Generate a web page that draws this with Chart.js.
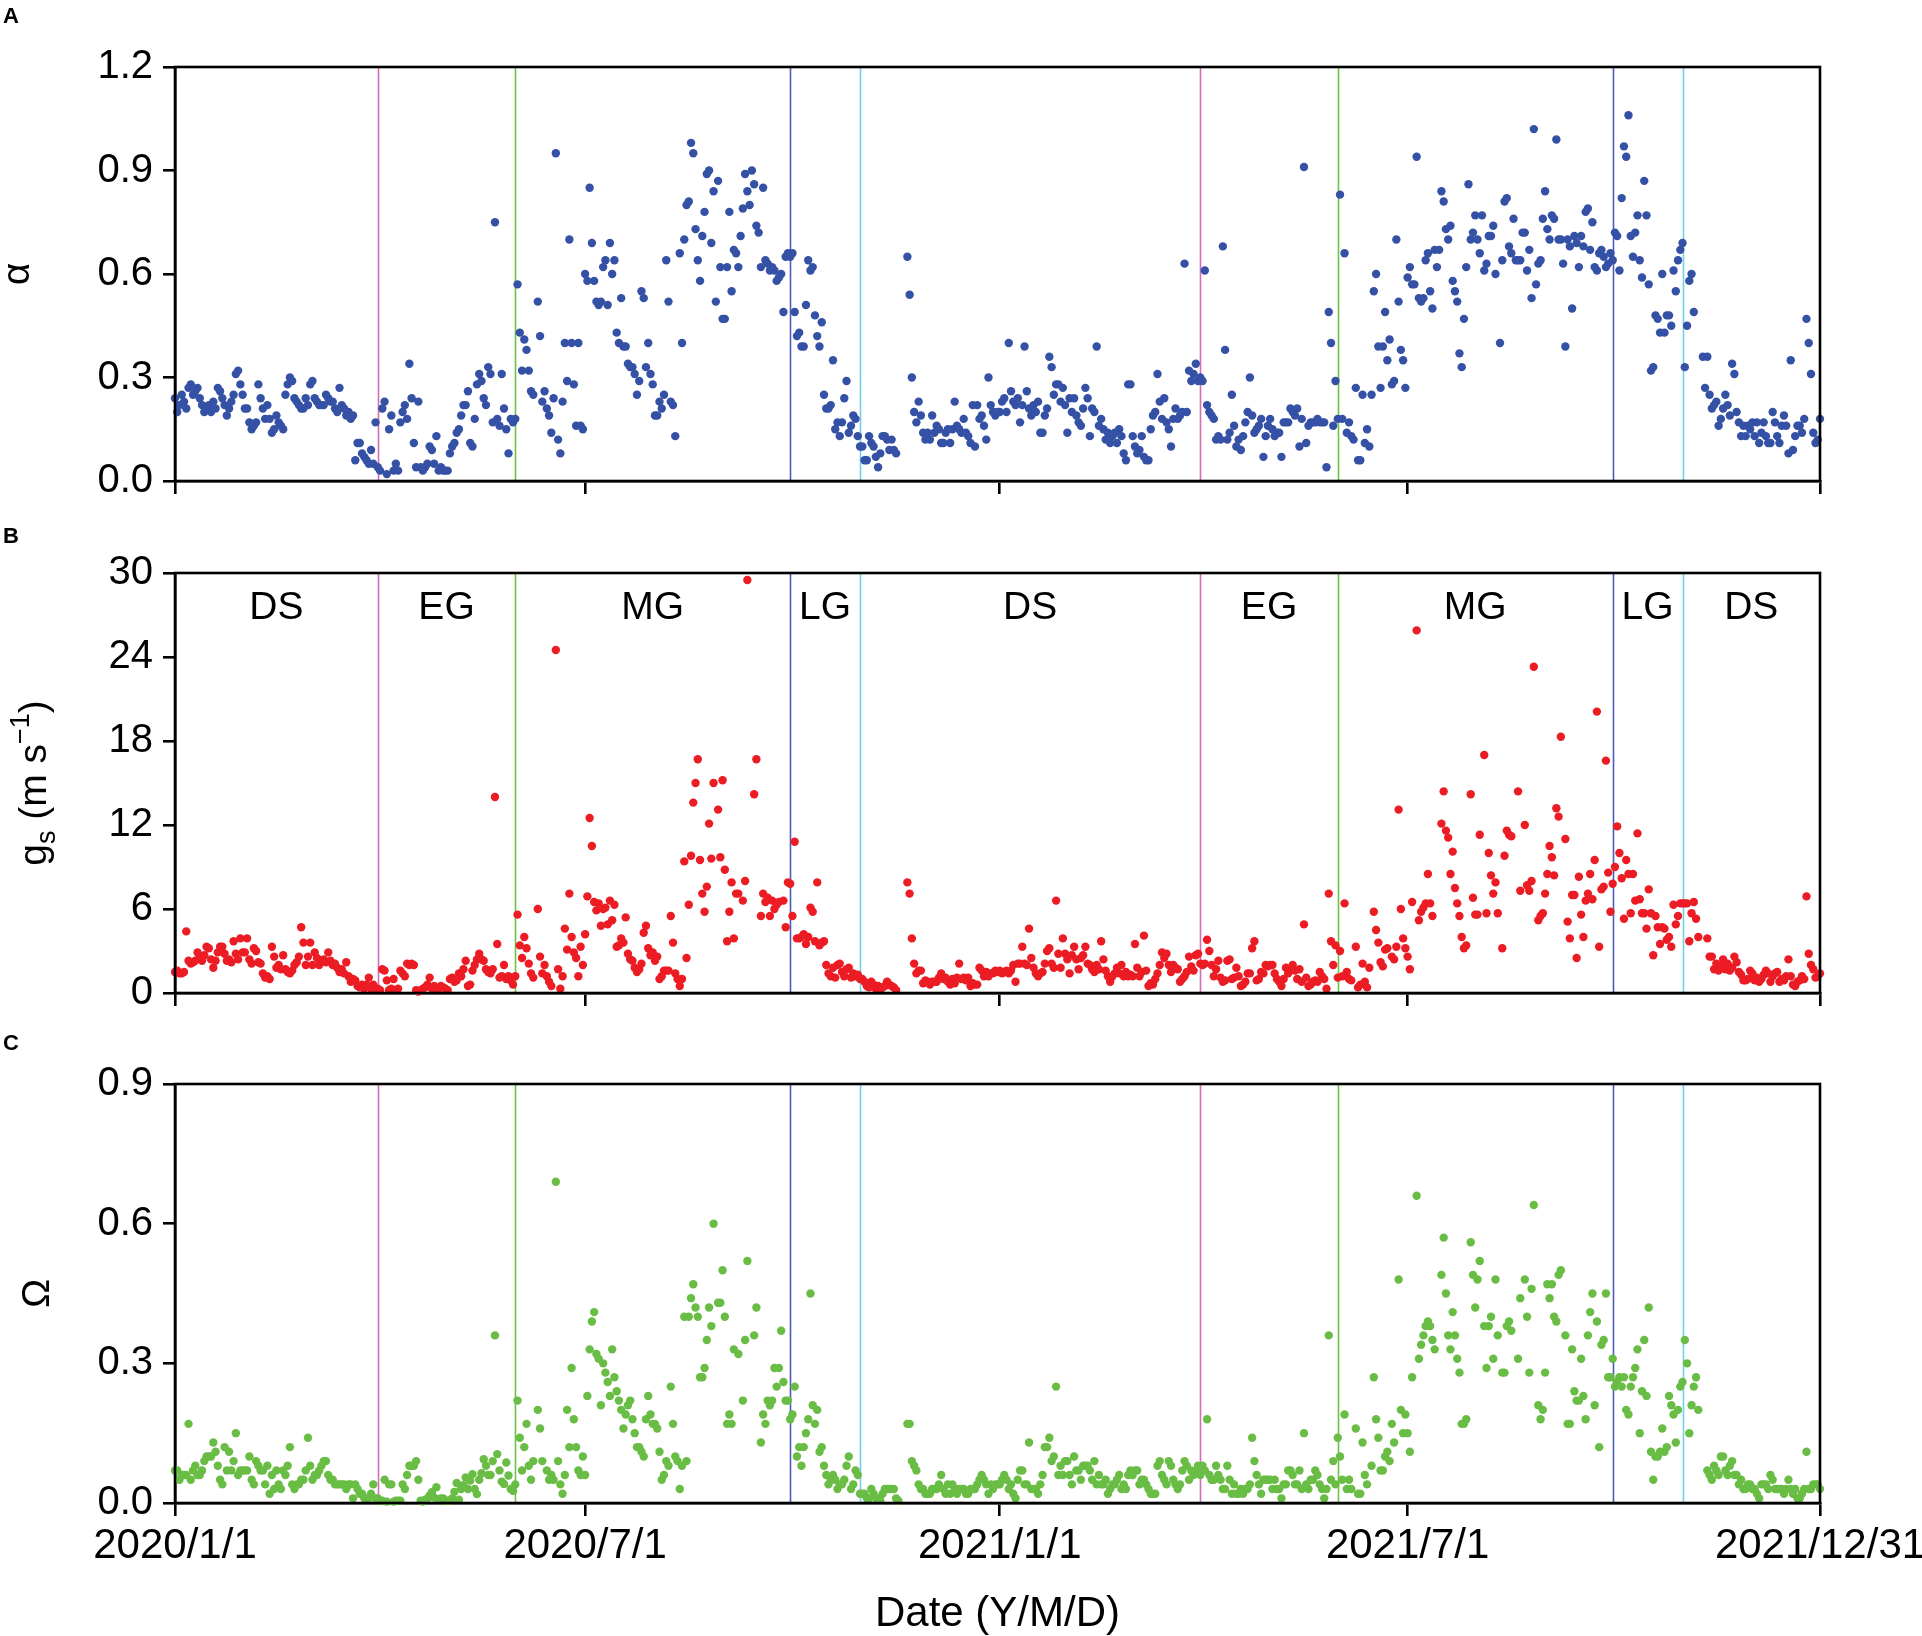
<!DOCTYPE html>
<html>
<head>
<meta charset="utf-8">
<script src="https://cdn.jsdelivr.net/npm/chart.js@4.4.1/dist/chart.umd.min.js"></script>
<style>
  html, body { margin: 0; padding: 0; background: #fff; }
  #wrap { position: relative; width: 1922px; height: 1636px; overflow: hidden; background: #fff; }
  #wrap canvas { position: absolute; left: 0; }
</style>
</head>
<body>
<div id="wrap">
  <canvas id="panelA" width="1922" height="521" style="top:0px"></canvas>
  <canvas id="panelB" width="1922" height="518" style="top:515px"></canvas>
  <canvas id="panelC" width="1922" height="611" style="top:1025px"></canvas>
</div>
<script>
const FONT = '"Liberation Sans", Arial, Helvetica, sans-serif';

// axis ticks and phase boundaries
const xTickLabels = ['2020/1/1', '2020/7/1', '2021/1/1', '2021/7/1', '2021/12/31'];
const phaseBounds = ['2020/3/31', '2020/5/31', '2020/9/30', '2020/10/31',
                     '2021/3/31', '2021/5/31', '2021/9/30', '2021/10/31'];
const phaseNames = ['DS', 'EG', 'MG', 'LG', 'DS', 'EG', 'MG', 'LG', 'DS'];
const alphaTicks = [0, 0.3, 0.6, 0.9, 1.2];
const gsTicks = [0, 6, 12, 18, 24, 30];
const omegaTicks = [0, 0.3, 0.6, 0.9];

// daily values, one row per month (Jan 2020 ... Dec 2021), null = no data
const alpha = [
  [0.24,0.20,0.22,0.25,0.23,0.21,0.27,0.28,0.25,0.26,0.27,0.24,0.22,0.20,0.21,0.22,0.20,0.23,0.21,0.27,0.26,0.24,0.22,0.19,0.21,0.23,0.25,0.31,0.32,0.28,0.25],
  [0.21,0.21,0.17,0.15,0.16,0.17,0.28,0.24,0.21,0.18,0.22,0.18,0.14,0.15,0.19,0.17,0.16,0.15,0.25,0.28,0.30,0.29,0.24,0.23,0.22,0.21,0.21,0.24,0.22],
  [0.28,0.29,0.24,0.23,0.22,0.22,0.22,0.25,0.24,0.23,0.23,0.21,0.20,0.27,0.22,0.21,0.19,0.20,0.18,0.19,0.06,0.11,0.11,0.08,0.07,0.06,0.05,0.09,0.05,0.17,0.04],
  [0.03,0.21,0.23,0.02,0.15,0.19,0.03,0.05,0.03,0.17,0.20,0.22,0.18,0.34,0.24,0.11,0.04,0.23,0.04,0.03,0.04,0.05,0.10,0.09,0.05,0.13,0.03,0.04,0.03,0.03],
  [0.03,0.08,0.10,0.11,0.14,0.15,0.19,0.22,0.22,0.26,0.11,0.10,0.18,0.28,0.31,0.29,0.24,0.22,0.33,0.31,0.17,0.75,0.18,0.16,0.31,0.21,0.15,0.08,0.18,0.17,0.18],
  [0.57,0.43,0.32,0.41,0.38,0.32,0.26,0.25,null,0.52,0.42,0.23,0.26,0.21,0.19,0.14,0.24,0.95,0.12,0.08,0.23,0.40,0.29,0.70,0.40,0.28,0.16,0.40,0.16,0.15],
  [0.60,0.58,0.85,0.69,0.58,0.52,0.51,0.52,0.62,0.64,0.51,0.69,0.60,0.64,0.43,0.40,0.53,0.39,0.39,0.34,0.33,0.33,0.31,0.25,0.29,0.55,0.53,0.33,0.40,0.31,0.28],
  [0.19,0.19,0.23,0.21,0.25,0.64,0.52,0.23,0.22,0.13,null,0.66,0.40,0.70,0.80,0.81,0.98,0.95,0.73,0.64,0.58,0.71,0.78,0.89,0.90,0.69,0.84,0.52,0.87,0.62,0.47],
  [0.47,0.62,0.78,0.55,0.67,0.66,0.62,0.71,0.79,0.89,0.84,0.80,0.90,0.86,0.74,0.72,0.62,0.85,0.64,0.63,0.61,0.62,0.61,0.58,0.59,0.60,0.49,0.65,0.66,0.65],
  [0.66,0.49,0.42,0.43,0.39,0.39,0.51,0.64,0.61,0.62,0.48,0.42,0.39,0.46,0.25,0.21,0.21,0.22,0.35,0.15,0.17,0.13,0.17,0.24,0.29,0.14,0.16,0.19,0.18,0.13,0.10],
  [0.10,0.06,0.06,0.13,0.11,0.10,0.07,0.04,0.08,0.13,0.13,0.12,0.09,0.12,0.09,0.08,null,null,null,null,0.65,0.54,0.30,0.20,0.17,0.23,0.19,0.14,0.12,0.14],
  [0.12,0.19,0.14,0.16,0.15,0.11,0.11,0.14,0.15,0.11,0.15,0.23,0.16,0.15,0.14,0.18,0.14,0.13,0.11,0.22,0.10,0.22,0.18,0.19,0.16,0.12,0.30,0.22,0.20,0.19,0.20],
  [0.20,0.23,0.24,0.20,0.40,0.26,0.23,0.22,0.24,0.17,0.22,0.39,0.26,0.21,0.19,0.22,0.20,0.23,0.14,0.14,0.19,0.21,0.36,0.33,0.25,0.28,0.28,0.23,0.27,0.22,0.14],
  [0.24,0.20,0.24,0.19,0.17,0.16,0.21,0.27,0.24,0.13,0.21,0.20,0.39,0.16,0.18,0.15,0.12,0.14,0.11,0.13,0.14,0.11,0.15,0.13,0.08,0.06,0.28,0.28],
  [0.13,0.10,0.08,0.09,0.13,0.07,0.06,0.06,0.15,0.19,0.20,0.31,0.23,0.18,0.24,0.17,0.15,0.10,0.18,0.21,0.18,0.19,0.20,0.63,0.20,0.32,0.29,0.31,0.34,0.29,0.30],
  [0.29,0.61,0.22,0.20,0.19,0.18,0.12,0.13,0.12,0.68,0.38,0.12,0.14,0.25,0.16,0.10,0.12,0.09,0.13,0.17,0.20,0.30,0.19,0.14,0.15,0.16,0.18,0.07,0.13,0.16],
  [0.18,0.15,0.13,0.14,0.14,0.07,0.17,0.17,0.17,0.21,0.20,0.19,0.21,0.10,0.18,0.91,0.11,0.16,0.17,0.17,0.17,0.18,0.17,0.17,0.17,0.04,0.49,0.40,0.16,0.29,0.18],
  [0.83,0.18,0.66,0.14,0.17,0.13,0.12,0.27,0.06,0.06,0.25,0.11,0.15,0.10,0.25,0.55,0.60,0.39,0.27,0.39,0.49,0.35,0.41,0.28,0.29,0.70,0.52,0.38,0.35,0.27],
  [0.59,0.62,0.57,0.57,0.94,0.53,0.52,0.53,0.64,0.66,0.55,0.50,0.67,0.62,0.67,0.84,0.81,0.73,0.70,0.74,0.58,0.55,0.52,0.37,0.33,0.47,0.62,0.86,0.70,0.72,0.77],
  [0.70,0.66,0.77,0.61,0.63,0.71,0.71,0.74,0.60,null,0.40,0.64,0.81,0.82,0.68,0.66,0.76,0.64,0.64,0.64,0.72,0.72,0.61,0.67,0.53,1.02,0.57,0.63,0.64,0.76,0.84],
  [0.73,0.70,0.77,0.76,0.99,0.70,0.70,0.63,0.39,0.70,0.68,0.50,0.71,0.69,0.62,0.71,0.68,0.78,0.79,0.67,0.75,0.62,0.61,0.66,0.67,0.65,0.62,0.63,0.66,0.64],
  [0.72,0.71,0.61,0.82,0.97,0.94,1.06,0.71,0.65,0.72,0.77,0.64,0.59,0.87,0.77,0.57,0.32,0.33,0.48,0.47,0.43,0.60,0.43,0.48,0.48,0.45,0.61,0.55,0.64,0.67,0.69],
  [0.33,0.45,0.58,0.60,0.49,null,null,null,0.36,0.27,0.36,0.25,0.21,0.22,0.23,0.16,0.18,0.21,0.25,0.22,0.19,0.34,0.31,0.20,0.17,0.13,0.16,0.13,0.16,0.15],
  [0.17,0.13,0.17,0.11,0.14,0.17,0.13,0.11,0.11,0.20,0.17,0.13,0.11,0.16,0.19,0.16,0.08,0.35,0.09,0.13,0.16,0.16,0.14,0.18,0.47,0.40,0.31,0.14,0.11,0.12,0.18]
];

const gs = [
  [1.5,1.6,1.4,1.4,1.5,4.4,2.3,2.1,2.2,2.3,2.9,2.6,2.3,2.7,3.3,3.2,2.4,1.8,2.3,2.9,3.3,3.3,2.8,2.3,2.4,2.2,3.7,2.8,2.4,3.9,2.9],
  [2.9,3.9,2.4,2.1,3.2,3.0,2.2,2.1,1.4,1.1,1.2,1.0,3.3,2.6,1.8,2.0,1.7,2.7,1.7,1.5,1.4,1.6,2.0,2.2,2.6,4.7,3.6,2.0,2.6],
  [3.6,2.0,2.9,2.5,2.0,2.3,2.4,2.2,2.9,2.3,2.0,2.1,1.8,1.5,1.7,1.4,2.2,1.2,0.8,1.0,0.9,0.5,0.4,0.6,0.3,0.6,1.1,0.3,0.6,0.2,0.3],
  [0.2,1.7,1.6,0.9,0.2,0.3,1.0,0.2,0.3,1.6,1.4,1.2,2.1,2.0,2.1,2.0,0.2,0.1,0.2,0.3,0.4,0.6,1.1,0.3,0.5,0.2,0.3,0.5,0.4,0.3],
  [0.2,1.0,1.1,0.8,0.9,1.4,1.2,1.7,2.3,0.5,0.6,1.6,2.0,2.4,2.8,2.4,2.3,1.7,1.5,1.4,1.7,14.0,3.5,1.1,1.2,2.0,1.0,1.2,0.9,0.6,1.2],
  [5.6,3.4,2.5,4.0,3.2,2.1,1.4,1.1,null,6.0,2.6,1.4,2.0,1.2,0.8,0.5,null,24.5,1.7,0.3,1.2,4.6,3.1,7.1,4.0,2.9,2.5,1.2,3.3,2.0],
  [4.2,6.9,12.5,10.5,6.5,5.9,6.4,4.8,6.0,6.1,4.9,6.6,5.2,6.3,3.3,3.4,3.9,3.6,5.4,2.8,2.4,2.3,1.8,1.5,1.7,2.1,4.3,4.8,3.2,2.7,2.9],
  [2.3,2.6,1.0,1.2,1.6,1.6,1.6,5.5,3.6,1.4,1.0,0.5,1.0,9.4,2.5,6.3,9.8,13.6,15.0,16.7,9.5,7.1,5.8,7.6,12.1,9.6,15.0,null,13.1,9.7,15.2],
  [8.8,3.7,5.8,7.9,3.9,7.1,7.1,null,6.6,8.0,29.5,null,null,14.2,16.7,null,5.5,7.1,6.5,6.8,5.5,6.6,6.0,6.3,6.5,null,6.6,4.7,7.9,7.8],
  [5.5,10.8,3.9,3.9,4.0,4.2,3.5,4.0,6.1,5.8,3.7,7.9,3.4,3.6,3.7,2.0,1.4,1.2,1.8,1.1,2.0,2.1,1.5,1.2,1.7,1.8,1.1,1.4,1.2,1.3,1.0],
  [1.0,0.8,0.5,0.4,0.8,0.6,0.3,0.5,0.2,0.4,0.5,0.8,0.6,0.5,0.4,0.2,null,null,null,null,7.9,7.1,3.9,2.1,1.4,1.6,1.6,0.7,0.9,0.8],
  [0.6,0.8,0.8,0.8,1.1,1.4,1.0,1.1,0.8,0.6,1.0,0.7,1.1,2.1,1.0,1.1,0.9,1.1,0.5,0.7,0.6,0.6,1.8,1.6,1.2,1.5,1.2,1.4,1.4,1.6,1.5],
  [1.6,1.4,1.5,1.6,1.4,1.6,2.0,0.8,2.1,2.1,3.3,2.1,2.0,4.6,2.5,1.8,1.4,1.2,1.4,1.5,2.1,3.0,3.2,2.1,1.8,6.6,2.8,1.8,3.9,2.8,2.4],
  [1.4,2.7,3.3,2.4,1.7,2.5,2.7,3.3,2.1,2.0,1.7,1.5,2.0,1.7,3.7,2.4,1.6,1.2,0.8,1.2,1.4,1.8,1.4,2.0,1.2,1.5,1.2,1.3],
  [1.2,3.5,1.8,1.2,1.5,4.1,1.6,0.5,0.7,0.6,1.0,1.4,2.0,2.9,2.5,2.8,2.0,1.5,2.0,1.8,1.7,0.8,1.0,1.2,1.5,2.6,1.9,1.6,2.7,2.8,2.1],
  [2.0,2.1,3.8,3.0,2.0,1.2,1.7,2.3,1.1,0.8,0.9,2.3,2.4,1.0,1.1,1.8,1.2,0.5,0.6,0.8,1.4,1.4,3.2,3.7,0.9,1.0,1.5,1.4,2.0,1.9],
  [2.0,2.0,1.4,1.0,0.8,0.5,1.0,1.8,1.4,1.7,2.0,1.6,1.0,1.7,0.8,4.9,1.1,0.5,0.6,0.8,0.9,0.8,1.5,1.2,1.0,0.3,7.1,3.7,2.0,3.4,1.1],
  [3.0,1.2,6.4,1.5,1.0,0.9,null,3.3,0.4,0.6,2.1,0.8,0.4,1.8,null,5.8,4.5,3.6,2.2,1.9,3.1,3.2,null,2.6,2.4,3.3,13.1,6.0,3.9,3.2],
  [2.6,1.7,6.5,null,25.9,5.2,5.8,6.1,6.4,8.5,6.4,5.5,null,null,null,12.1,14.4,11.6,11.1,8.5,10.1,7.5,6.4,5.5,4.0,3.2,3.4,null,14.2,6.8,5.6],
  [5.6,11.3,null,17.0,5.7,10.0,8.4,7.1,7.9,5.7,null,3.2,9.8,11.6,11.3,11.2,null,null,14.4,7.3,null,12.0,7.7,7.3,8.0,23.3,null,5.2,5.5,5.7,7.1],
  [8.5,10.5,9.7,8.4,13.2,12.6,18.3,null,11.0,5.1,3.9,7.0,7.0,2.5,8.3,5.6,4.0,6.6,7.1,8.5,6.7,9.5,20.1,3.3,7.4,7.6,16.6,8.6,5.8,7.8],
  [9.0,11.9,10.0,8.2,5.3,9.5,8.5,5.7,8.5,6.6,11.4,6.7,5.7,5.7,4.6,7.4,5.7,2.7,5.5,4.7,3.5,4.7,4.6,3.8,4.0,3.3,6.3,4.9,5.5,6.4,6.4],
  [6.4,6.4,3.7,5.7,6.5,5.3,4.0,null,null,null,3.9,2.6,2.6,1.7,2.1,1.6,1.9,2.4,1.7,2.1,1.6,1.8,2.6,2.2,1.5,1.3,0.9,0.9,1.0,1.6],
  [1.4,0.9,1.1,0.8,1.0,1.3,1.6,1.4,0.8,1.2,1.4,1.5,0.8,1.0,0.9,1.2,2.4,1.2,0.6,0.5,0.8,0.9,1.2,1.0,6.9,2.8,2.0,1.7,1.1,1.2,1.4]
];

const omega = [
  [0.07,0.07,0.05,0.06,0.06,0.06,0.17,0.05,0.07,0.08,0.06,0.06,0.07,0.09,0.10,0.10,0.10,0.13,0.11,0.08,0.05,0.04,0.12,0.07,0.11,0.07,0.09,0.15,0.06,0.07,0.07],
  [0.07,0.07,0.10,0.05,0.04,0.09,0.08,0.07,0.07,0.04,0.08,0.02,0.06,0.03,0.07,0.04,0.03,0.07,0.06,0.08,0.12,0.04,0.03,0.04,0.04,0.05,0.05,0.07,0.14],
  [0.08,0.05,0.06,0.06,0.07,0.08,0.09,0.09,0.06,0.05,0.05,0.04,0.04,0.04,0.04,0.04,0.03,0.04,0.04,0.01,0.04,0.03,0.02,0.02,0.01,0.01,0.01,0.02,0.04,0.01,0.01],
  [0.005,0.005,0.05,0.003,0.04,0.04,0.003,0.005,0.005,0.005,0.04,0.03,0.06,0.08,0.08,0.08,0.09,0.05,0.005,0.003,0.007,0.009,0.016,0.023,0.012,0.034,0.007,0.01,0.01,0.005],
  [0.005,0.005,0.01,0.024,0.043,0.007,0.03,0.038,0.055,0.03,0.048,0.062,0.03,0.019,0.05,0.064,0.094,0.08,0.06,0.06,0.09,0.36,0.105,0.07,0.046,0.041,0.087,0.059,0.03,0.026,0.04],
  [0.22,0.14,0.07,0.12,0.17,0.08,0.05,0.09,null,0.20,0.16,0.09,null,0.07,0.05,0.06,0.05,0.69,0.09,0.04,0.02,0.06,0.20,0.12,0.29,0.18,0.12,0.07,0.06,0.10],
  [0.06,0.23,0.33,0.39,0.41,0.32,0.31,0.21,0.30,0.28,0.26,0.23,0.33,0.27,0.24,0.22,0.20,0.16,0.19,0.21,0.22,0.18,0.15,0.12,0.12,0.11,0.10,0.18,0.23,0.19,0.17],
  [0.17,0.16,0.11,0.05,0.06,0.09,0.08,0.25,0.17,0.10,0.09,0.03,0.08,0.40,0.09,0.40,0.44,0.47,0.42,0.40,0.27,0.27,0.29,0.35,0.42,0.38,0.60,null,0.43,0.43,0.50],
  [0.40,0.17,0.19,0.17,0.33,null,0.32,null,0.22,0.35,0.52,null,null,0.36,0.42,null,0.13,0.19,0.17,0.22,0.21,0.22,0.29,0.25,0.29,0.37,0.26,0.22,0.22,0.18],
  [0.19,0.25,0.10,0.12,0.08,0.12,0.15,0.18,0.45,0.21,0.17,0.20,0.11,0.12,0.08,0.06,0.04,0.05,0.06,0.05,0.03,0.04,0.04,0.05,0.08,0.10,0.03,0.04,0.07,0.06,0.02],
  [0.02,0.02,0.01,0.01,0.03,0.02,0.01,0.01,0.005,0.02,0.03,0.03,0.03,0.03,0.03,0.01,0.005,null,null,null,0.17,0.17,0.09,0.08,0.07,0.04,0.03,0.03,0.02,0.02],
  [0.02,0.03,0.03,0.03,0.04,0.06,0.03,0.02,0.04,0.02,0.04,0.03,0.02,0.03,0.03,0.03,0.02,0.02,0.03,0.03,0.03,0.04,0.05,0.06,0.05,0.04,0.02,0.04,0.03,0.04,0.04],
  [0.04,0.05,0.06,0.05,0.03,0.04,0.02,0.01,0.05,0.07,0.07,0.04,0.04,0.13,0.03,0.03,0.03,0.02,0.04,0.06,0.12,0.12,0.14,0.09,0.10,0.25,0.06,0.08,0.06,0.09,0.09],
  [0.06,0.04,0.10,0.07,0.07,0.05,0.08,0.08,0.08,0.07,0.05,0.09,0.04,0.06,0.04,0.04,0.05,0.02,0.03,0.04,0.04,0.05,0.06,0.03,0.04,0.03,0.06,0.07],
  [0.06,0.07,0.07,0.04,0.05,0.05,0.04,0.03,0.02,0.02,0.02,0.08,0.09,0.06,0.05,0.04,0.09,0.08,0.05,0.04,0.03,0.04,0.07,0.09,0.08,0.05,0.07,0.06,0.07,0.08,0.06],
  [0.08,0.07,0.18,0.06,0.05,0.05,0.08,0.06,0.05,0.03,0.03,0.08,0.05,0.02,0.04,0.02,0.02,0.03,0.02,0.03,0.03,0.04,0.14,0.09,0.06,0.04,0.02,0.05,0.05,0.05],
  [0.05,0.03,0.05,0.03,0.03,0.01,0.04,0.04,0.07,0.07,0.06,0.04,0.04,0.07,0.03,0.15,0.04,0.03,0.05,0.05,0.07,0.06,0.04,0.03,0.01,0.03,0.36,0.05,0.09,0.04,0.14],
  [0.10,0.05,0.19,0.03,0.05,0.03,null,0.16,0.02,0.02,0.13,0.06,0.04,null,0.08,0.27,0.18,0.14,0.07,0.07,0.10,0.11,0.09,0.17,0.13,null,0.48,0.20,0.15,0.19],
  [0.15,0.11,0.27,null,0.66,0.31,0.34,0.36,0.38,0.39,0.38,0.35,0.33,null,null,0.49,0.57,0.45,0.36,0.33,0.41,0.36,0.31,0.28,0.17,0.17,0.18,null,0.56,0.49,0.42],
  [0.48,0.52,null,0.38,0.29,0.38,0.40,0.31,0.48,0.36,null,0.28,0.28,0.38,0.39,0.37,null,null,0.31,0.44,null,0.48,0.40,0.28,0.46,0.64,null,0.21,0.18,0.20,0.28],
  [0.47,0.44,0.47,0.40,0.39,0.49,0.50,null,0.36,0.17,0.17,0.33,0.24,0.22,0.22,0.31,0.23,0.18,0.36,0.41,0.45,0.21,0.39,0.12,0.34,0.35,0.45,0.27,0.27,0.31],
  [0.25,0.26,0.27,0.25,0.27,0.20,0.19,0.25,0.27,0.29,0.33,0.15,0.24,0.35,0.23,0.42,0.11,0.05,0.10,0.10,0.11,0.16,0.11,0.12,0.23,0.21,0.19,0.13,0.20,0.25,0.26],
  [0.35,0.30,0.15,0.21,0.25,0.27,0.20,null,null,null,0.07,0.06,0.05,0.08,0.07,0.06,0.10,0.10,0.07,0.06,0.08,0.09,0.06,0.06,0.04,0.05,0.03,0.03,0.04,0.04],
  [0.03,0.03,0.02,0.01,0.04,0.04,0.04,0.03,0.06,0.05,0.03,0.03,0.03,0.03,0.02,0.03,0.05,0.03,0.02,0.03,0.01,0.01,0.02,0.03,0.11,0.03,0.03,0.04,0.04,0.04,0.03]
];

// ---------- helpers ----------
const BASE = Date.UTC(2020, 0, 1);
const DAY = 86400000;

function dayOf(str) {
  const [y, m, d] = str.split('/').map(Number);
  return (Date.UTC(y, m - 1, d) - BASE) / DAY;
}

function toPoints(rows) {
  const pts = [];
  rows.forEach((row, k) => {
    const d0 = (Date.UTC(2020 + Math.floor(k / 12), k % 12, 1) - BASE) / DAY;
    row.forEach((v, i) => { if (v !== null) pts.push({ x: d0 + i, y: v }); });
  });
  return pts;
}

const xTickDays = xTickLabels.map(dayOf);
const boundDays = phaseBounds.map(dayOf);
const lineColors = ['#d56cb6', '#6cc444', '#4c5bbd', '#72cfe9'];
const edges = [xTickDays[0]].concat(boundDays, [xTickDays[xTickDays.length - 1]]);
const phaseMids = phaseNames.map((n, i) => (edges[i] + edges[i + 1]) / 2);

function drawRotated(ctx, parts, xb, yc) {
  ctx.save();
  ctx.translate(xb, yc);
  ctx.rotate(-Math.PI / 2);
  let total = 0;
  parts.forEach(p => {
    ctx.font = p.size + 'px ' + FONT;
    p.w = ctx.measureText(p.t).width;
    total += p.w;
  });
  let x = -total / 2;
  ctx.fillStyle = '#000';
  ctx.textAlign = 'left';
  ctx.textBaseline = 'alphabetic';
  parts.forEach(p => {
    ctx.font = p.size + 'px ' + FONT;
    ctx.fillText(p.t, x, p.dy || 0);
    x += p.w;
  });
  ctx.restore();
}

// phase lines, frame and all extra text
const decor = {
  id: 'decor',
  beforeDatasetsDraw(chart, args, o) {
    const { ctx, chartArea: a, scales: { x } } = chart;
    ctx.save();
    ctx.lineWidth = 1.6;
    boundDays.forEach((d, i) => {
      const px = Math.round(x.getPixelForValue(d)) + 0.5;
      ctx.strokeStyle = lineColors[i % 4];
      ctx.beginPath();
      ctx.moveTo(px, a.top);
      ctx.lineTo(px, a.bottom);
      ctx.stroke();
    });
    ctx.restore();
  },
  afterDraw(chart, args, o) {
    const { ctx, chartArea: a, scales: { x } } = chart;
    ctx.save();
    ctx.strokeStyle = '#000';
    ctx.lineWidth = 2.6;
    ctx.strokeRect(a.left, a.top, a.right - a.left, a.bottom - a.top);

    ctx.fillStyle = '#000';
    ctx.font = 'bold 22px ' + FONT;
    ctx.textAlign = 'left';
    ctx.textBaseline = 'alphabetic';
    ctx.fillText(o.letter, 3, o.letterY);

    drawRotated(ctx, o.title, o.titleX, (a.top + a.bottom) / 2);

    if (o.phases) {
      ctx.font = '39px ' + FONT;
      ctx.textAlign = 'center';
      phaseNames.forEach((n, i) => ctx.fillText(n, x.getPixelForValue(phaseMids[i]), a.top + 46));
    }
    if (o.dates) {
      ctx.font = '42px ' + FONT;
      ctx.textAlign = 'center';
      xTickLabels.forEach((t, i) => ctx.fillText(t, x.getPixelForValue(xTickDays[i]), a.bottom + 55));
      ctx.fillText('Date (Y/M/D)', (a.left + a.right) / 2, a.bottom + 123);
    }
    ctx.restore();
  }
};

function makePanel(cfg) {
  const axisLine = { display: true, drawOnChartArea: false, drawTicks: true, tickLength: 12, color: '#000', lineWidth: 2.6 };
  return new Chart(document.getElementById(cfg.id), {
    type: 'scatter',
    data: {
      datasets: [{
        data: toPoints(cfg.rows),
        backgroundColor: cfg.color,
        borderWidth: 0,
        pointRadius: 4.2,
        pointHoverRadius: 4.2,
        clip: false
      }]
    },
    options: {
      responsive: false,
      animation: false,
      devicePixelRatio: 1,
      events: [],
      layout: { padding: { top: cfg.padTop, right: 102, left: 0, bottom: 0 } },
      scales: {
        x: {
          type: 'linear',
          min: xTickDays[0],
          max: xTickDays[xTickDays.length - 1],
          afterBuildTicks: s => { s.ticks = xTickDays.map(v => ({ value: v })); },
          ticks: { callback: () => '', autoSkip: false, maxRotation: 0, font: { size: 10 } },
          grid: Object.assign({}, axisLine, { tickLength: 13 }),
          border: { display: true, color: '#000', width: 2.6 },
          afterFit: s => { s.height = cfg.xHeight; }
        },
        y: {
          min: cfg.ticks[0],
          max: cfg.ticks[cfg.ticks.length - 1],
          afterBuildTicks: s => { s.ticks = cfg.ticks.map(v => ({ value: v })); },
          ticks: {
            color: '#000',
            padding: 10,
            autoSkip: false,
            font: { family: FONT, size: 40 },
            callback: v => cfg.fmt(v)
          },
          grid: axisLine,
          border: { display: true, color: '#000', width: 2.6 },
          afterFit: s => { s.width = 175; }
        }
      },
      plugins: {
        legend: { display: false },
        tooltip: { enabled: false },
        decor: cfg.decor
      }
    },
    plugins: [decor]
  });
}

makePanel({
  id: 'panelA', rows: alpha, color: '#3551a6', ticks: alphaTicks,
  fmt: v => v.toFixed(1), padTop: 67, xHeight: 40,
  decor: { letter: 'A', letterY: 23, title: [{ t: 'α', size: 39 }], titleX: 29 }
});

makePanel({
  id: 'panelB', rows: gs, color: '#ec1c24', ticks: gsTicks,
  fmt: v => String(v), padTop: 58, xHeight: 40,
  decor: {
    letter: 'B', letterY: 28, titleX: 46, phases: true,
    title: [
      { t: 'g', size: 39 }, { t: 's', size: 27, dy: 9 },
      { t: ' (m s', size: 39 }, { t: '\u22121', size: 27, dy: -17 },
      { t: ')', size: 39 }
    ]
  }
});

makePanel({
  id: 'panelC', rows: omega, color: '#69bd45', ticks: omegaTicks,
  fmt: v => v.toFixed(1), padTop: 59, xHeight: 133,
  decor: { letter: 'C', letterY: 25, title: [{ t: 'Ω', size: 39 }], titleX: 49, dates: true }
});
</script>
</body>
</html>
